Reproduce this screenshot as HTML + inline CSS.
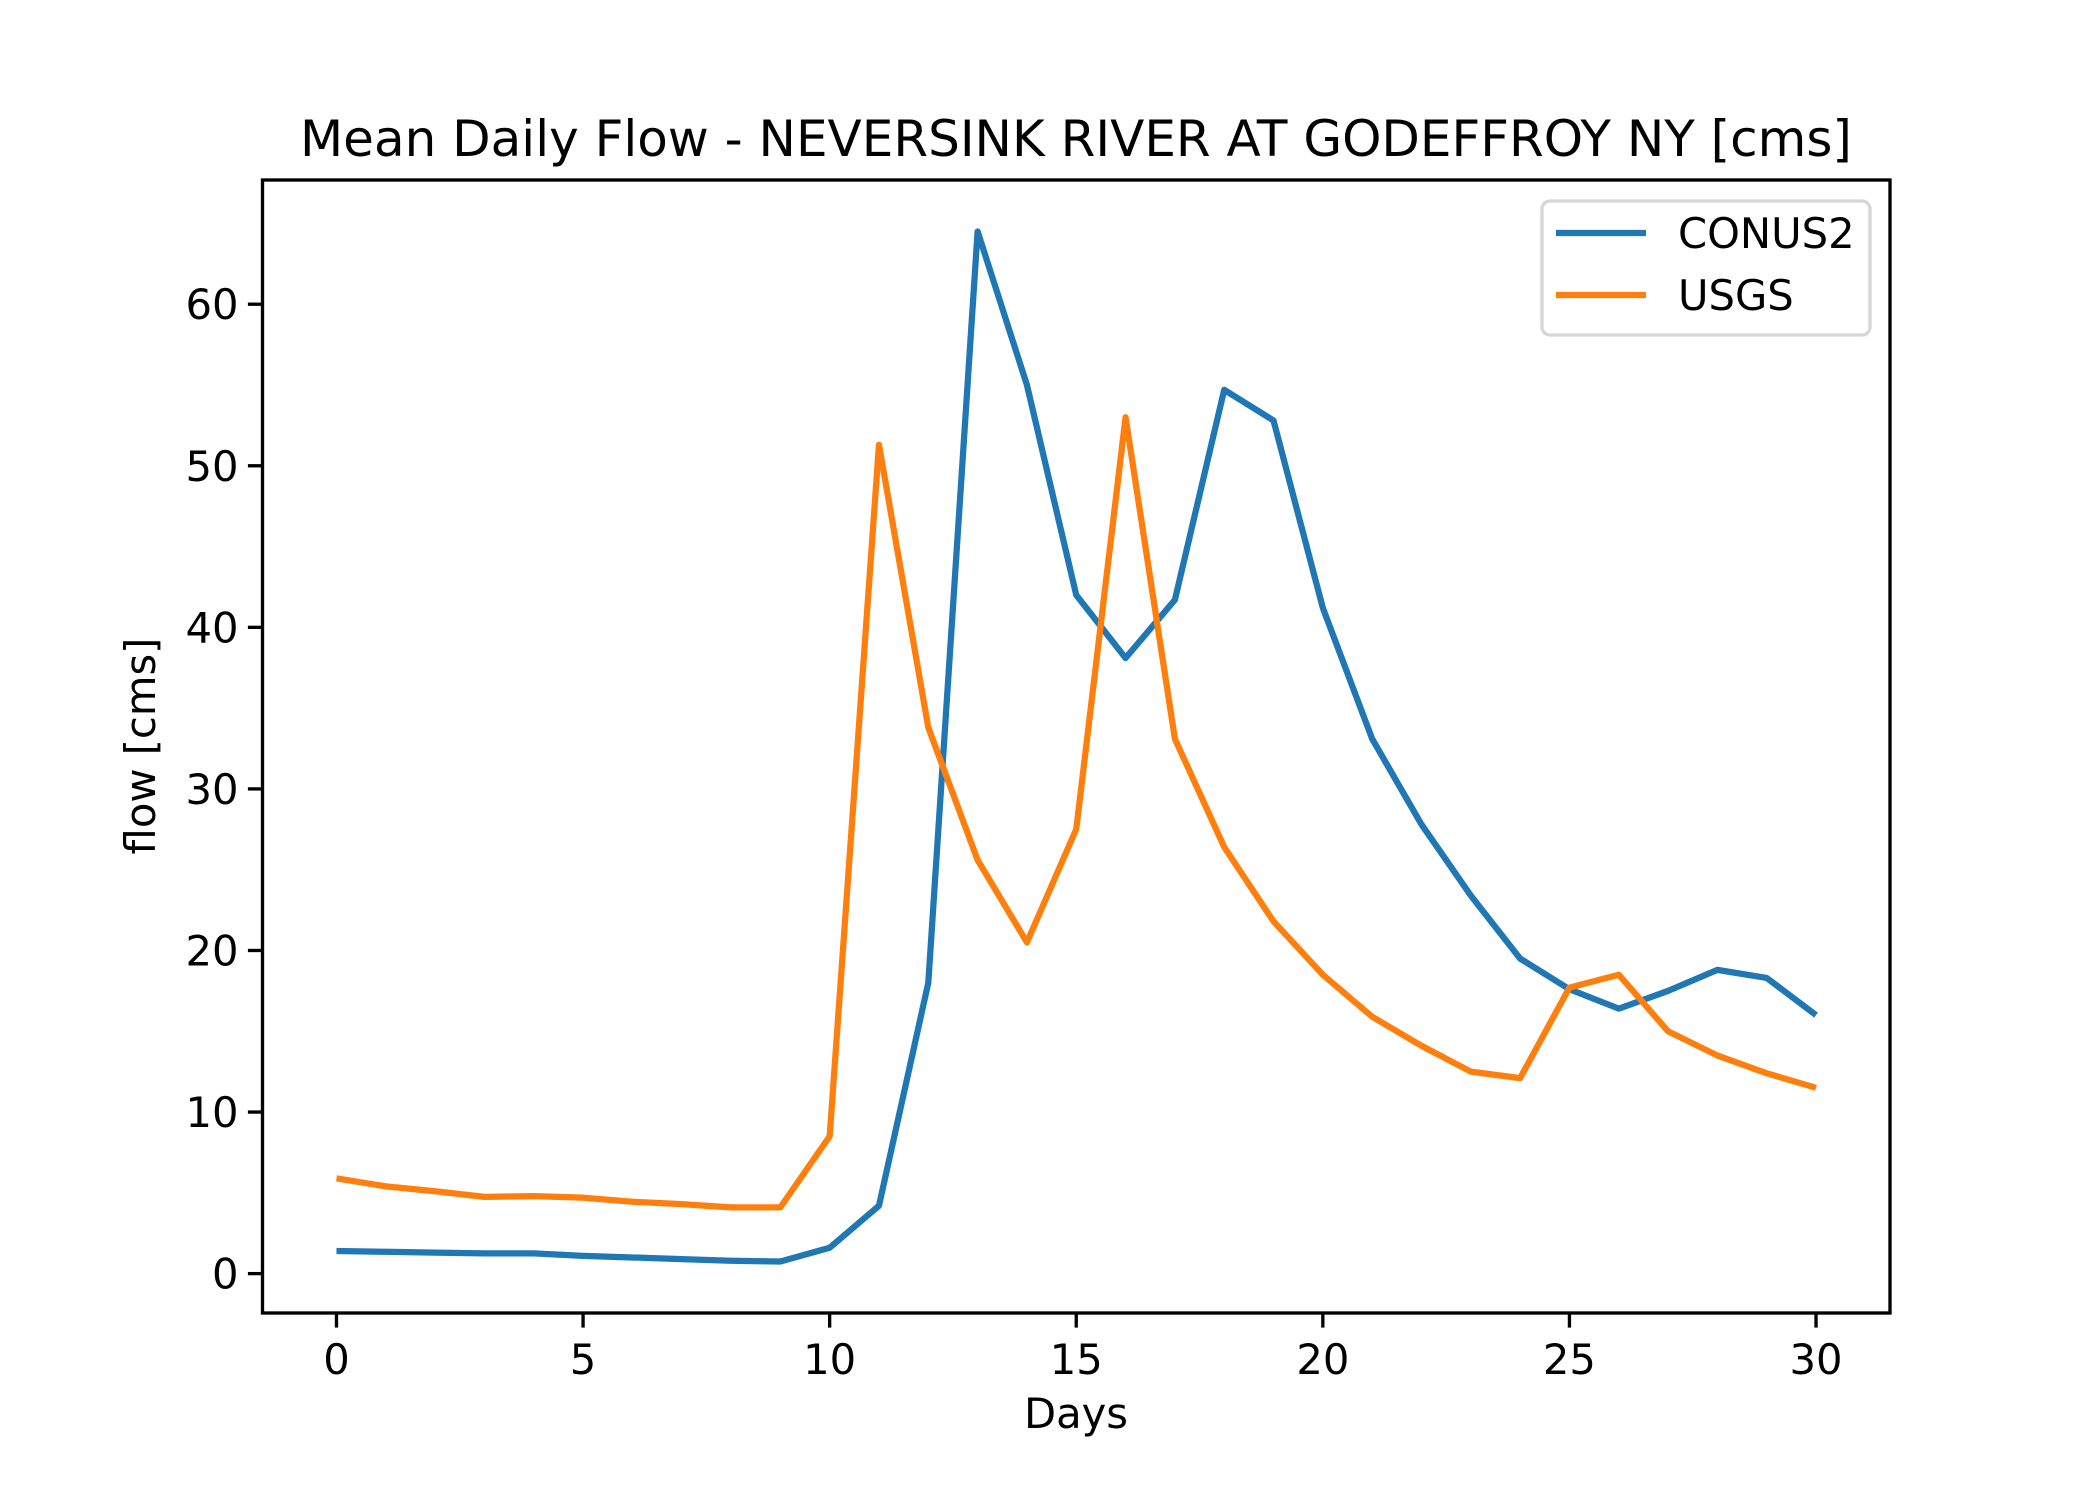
<!DOCTYPE html>
<html><head><meta charset="utf-8"><style>
html,body{margin:0;padding:0;background:#fff;}
svg{display:block;font-family:"DejaVu Sans","Liberation Sans",sans-serif;}
</style></head><body>
<svg id="chart" width="2100" height="1500" viewBox="0 0 2100 1500">
<rect width="2100" height="1500" fill="#fff"/>
<text x="1076" y="156" font-size="50" text-anchor="middle">Mean Daily Flow - NEVERSINK RIVER AT GODEFFROY NY [cms]</text>
<g id="series"></g>
<g id="axes"></g>
<rect x="262.5" y="180" width="1627.5" height="1133" fill="none" stroke="#000" stroke-width="3.33"/>
<text x="1076" y="1428" font-size="41.7" text-anchor="middle">Days</text>
<text transform="translate(155,746) rotate(-90)" font-size="41.7" text-anchor="middle">flow [cms]</text>
<g>
<rect x="1542" y="201" width="328" height="134" rx="8" fill="#fff" fill-opacity="0.8" stroke="#d6d6d6" stroke-width="3.33"/>
<line x1="1556" y1="233" x2="1646" y2="233" stroke="#1f77b4" stroke-width="6.25"/>
<text x="1678" y="248" font-size="41.7">CONUS2</text>
<line x1="1556" y1="295" x2="1646" y2="295" stroke="#ff7f0e" stroke-width="6.25"/>
<text x="1678" y="310" font-size="41.7">USGS</text>
</g>
</svg>
<script>
const days = [0,1,2,3,4,5,6,7,8,9,10,11,12,13,14,15,16,17,18,19,20,21,22,23,24,25,26,27,28,29,30];
const conus2 = [1.4,1.35,1.3,1.25,1.25,1.1,1.0,0.9,0.8,0.75,1.6,4.2,18,64.5,55,42,38.1,41.7,54.7,52.8,41.2,33.1,27.8,23.4,19.5,17.6,16.4,17.5,18.8,18.3,16.0];
const usgs = [5.9,5.4,5.1,4.75,4.8,4.7,4.45,4.3,4.1,4.1,8.5,51.3,33.8,25.6,20.5,27.5,53,33.1,26.4,21.8,18.5,15.9,14.1,12.5,12.1,17.7,18.5,15,13.5,12.4,11.5];
const xTicks = [0,5,10,15,20,25,30];
const yTicks = [0,10,20,30,40,50,60];
const NS='http://www.w3.org/2000/svg';
const L=262.5,R=1890,T=180,B=1313;
const xs=days, allY=conus2.concat(usgs);
const xmin0=Math.min(...xs),xmax0=Math.max(...xs),ymin0=Math.min(...allY),ymax0=Math.max(...allY);
const xpad=(xmax0-xmin0)*0.05,ypad=(ymax0-ymin0)*0.05;
const xmin=xmin0-xpad,xmax=xmax0+xpad,ymin=ymin0-ypad,ymax=ymax0+ypad;
function sx(v){return L+(v-xmin)/(xmax-xmin)*(R-L);}
function sy(v){return B-(v-ymin)/(ymax-ymin)*(B-T);}
const sg=document.getElementById('series');
[[conus2,'#1f77b4','line-conus2'],[usgs,'#ff7f0e','line-usgs']].forEach(([arr,c,n])=>{
  const p=document.createElementNS(NS,'polyline');
  p.setAttribute('points',arr.map((v,i)=>sx(days[i])+','+sy(v)).join(' '));
  p.setAttribute('fill','none');p.setAttribute('stroke',c);p.setAttribute('stroke-width','6.25');
  p.setAttribute('stroke-linejoin','round');
  
  
  sg.appendChild(p);
});
const ag=document.getElementById('axes');
xTicks.forEach(t=>{
  const x=sx(t);
  const l=document.createElementNS(NS,'line');
  l.setAttribute('x1',x);l.setAttribute('x2',x);l.setAttribute('y1',B);l.setAttribute('y2',B+14.6);
  l.setAttribute('stroke','#000');l.setAttribute('stroke-width','3.33');
  
  
  ag.appendChild(l);
  const tx=document.createElementNS(NS,'text');
  tx.setAttribute('x',x);tx.setAttribute('y',1374);tx.setAttribute('font-size','41.7');tx.setAttribute('text-anchor','middle');
  tx.textContent=t;
  
  
  ag.appendChild(tx);
});
yTicks.forEach(t=>{
  const y=sy(t);
  const l=document.createElementNS(NS,'line');
  l.setAttribute('x1',L-14.6);l.setAttribute('x2',L);l.setAttribute('y1',y);l.setAttribute('y2',y);
  l.setAttribute('stroke','#000');l.setAttribute('stroke-width','3.33');
  
  
  ag.appendChild(l);
  const tx=document.createElementNS(NS,'text');
  tx.setAttribute('x',L-24);tx.setAttribute('y',y+15);tx.setAttribute('font-size','41.7');tx.setAttribute('text-anchor','end');
  tx.textContent=t;
  
  
  ag.appendChild(tx);
});
</script>
</body></html>
